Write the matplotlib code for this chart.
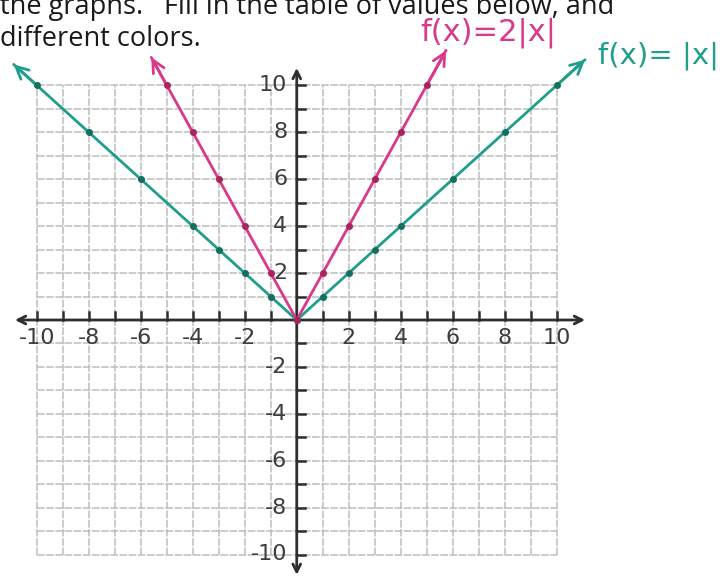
import matplotlib
matplotlib.use("Agg")
import matplotlib.pyplot as plt

# f(x) = |x| plotted points
abs_x = [-10, -8, -6, -4, -3, -2, -1, 0, 1, 2, 3, 4, 6, 8, 10]
abs_y = [10, 8, 6, 4, 3, 2, 1, 0, 1, 2, 3, 4, 6, 8, 10]
abs_ends_x = [-10.9, 11.1]
abs_ends_y = [10.9, 11.1]

# f(x) = 2|x| plotted points
dbl_x = [-5, -4, -3, -2, -1, 0, 1, 2, 3, 4, 5]
dbl_y = [10, 8, 6, 4, 2, 0, 2, 4, 6, 8, 10]
dbl_ends_x = [-5.6, 5.75]
dbl_ends_y = [11.2, 11.5]

tick_vals = [-10, -8, -6, -4, -2, 2, 4, 6, 8, 10]

TEAL = "#1f9f8b"
TEAL_DOT = "#13705f"
PINK = "#d8398a"
PINK_DOT = "#a8245f"
AXIS = "#2e2e2e"
GRID = "#bdbdbd"

# pixel layout of the graph paper
X0, Y0 = 296.75, 320.0
UX, UY = 25.975, 23.45
W, H = 722, 580

fig = plt.figure(figsize=(W / 100, H / 100), dpi=100)
ax = fig.add_axes([0, 0, 1, 1])
ax.set_xlim(-X0 / UX, (W - X0) / UX)
ax.set_ylim((Y0 - H) / UY, Y0 / UY)
ax.axis("off")

# graph paper grid
grid = range(-10, 11)
ax.vlines(grid, -10, 10, color=GRID, lw=1.1, linestyles=(0, (5, 1)), zorder=1)
ax.hlines(grid, -10, 10, color=GRID, lw=1.1, linestyles=(0, (5, 1)), zorder=1)

# axes with arrows
axis_arrow = dict(lw=2.0, color=AXIS, mutation_scale=14, shrinkA=0, shrinkB=0)
ax.annotate("", xy=(11.1, 0), xytext=(-10.85, 0),
            arrowprops=dict(arrowstyle="<->", **axis_arrow), zorder=3)
ax.annotate("", xy=(0, 10.75), xytext=(0, -10.87),
            arrowprops=dict(arrowstyle="<->", **axis_arrow), zorder=3)

for k in grid:
    if k == 0:
        continue
    ax.plot([k, k], [0, 0.35], color=AXIS, lw=1.8, zorder=3)
    ax.plot([0, 0.3], [k, k], color=AXIS, lw=1.8, zorder=3)

for v in tick_vals:
    ax.text(v, -0.35, str(v), ha="center", va="top", fontsize=16,
            color="#3c3c3c", zorder=2)
    ax.text(-0.37, v, str(v), ha="right", va="center", fontsize=16,
            color="#3c3c3c", zorder=2)

# the two graphs
ax.plot([abs_ends_x[0]] + abs_x + [abs_ends_x[1]],
        [abs_ends_y[0]] + abs_y + [abs_ends_y[1]],
        color=TEAL, lw=2.0, zorder=4, solid_capstyle="round")
ax.plot(abs_x, abs_y, "o", color=TEAL_DOT, ms=4, zorder=5)
ax.plot([dbl_ends_x[0]] + dbl_x + [dbl_ends_x[1]],
        [dbl_ends_y[0]] + dbl_y + [dbl_ends_y[1]],
        color=PINK, lw=2.0, zorder=4, solid_capstyle="round")
ax.plot(dbl_x, dbl_y, "o", color=PINK_DOT, ms=4, zorder=5)

# arrow heads at the ends of the graphs
heads = [
    (abs_ends_x[0], abs_ends_y[0], abs_x[0], abs_y[0], TEAL),
    (abs_ends_x[1], abs_ends_y[1], abs_x[-1], abs_y[-1], TEAL),
    (dbl_ends_x[0], dbl_ends_y[0], dbl_x[0], dbl_y[0], PINK),
    (dbl_ends_x[1], dbl_ends_y[1], dbl_x[-1], dbl_y[-1], PINK),
]
for tx, ty, fx, fy, c in heads:
    ax.annotate("", xy=(tx, ty), xytext=(fx, fy),
                arrowprops=dict(arrowstyle="->", lw=2.0, color=c, mutation_scale=22,
                                shrinkA=0, shrinkB=0), zorder=4)

# worksheet text
fig.text(0.0, 1 - 14 / H, "the graphs.", fontsize=19.5,
         family="Open Sans", color="#1a1a1a", va="baseline")
fig.text(164 / W, 1 - 14 / H, "Fill in the table of values below, and", fontsize=19.5,
         family="Open Sans", color="#1a1a1a", va="baseline")
fig.text(0.0, 1 - 46 / H, "different colors.",
         fontsize=19.5, family="Open Sans", color="#1a1a1a", va="baseline")

# handwritten function labels
fig.text(420 / W, 1 - 41 / H, "f(x)=2|x|", fontsize=22, color=PINK,
         family="DejaVu Sans", va="baseline")
fig.text(598 / W, 1 - 63 / H, "f(x)= |x|", fontsize=21, color=TEAL,
         family="DejaVu Sans", va="baseline")

fig.savefig("out.png", dpi=100, facecolor="white")
